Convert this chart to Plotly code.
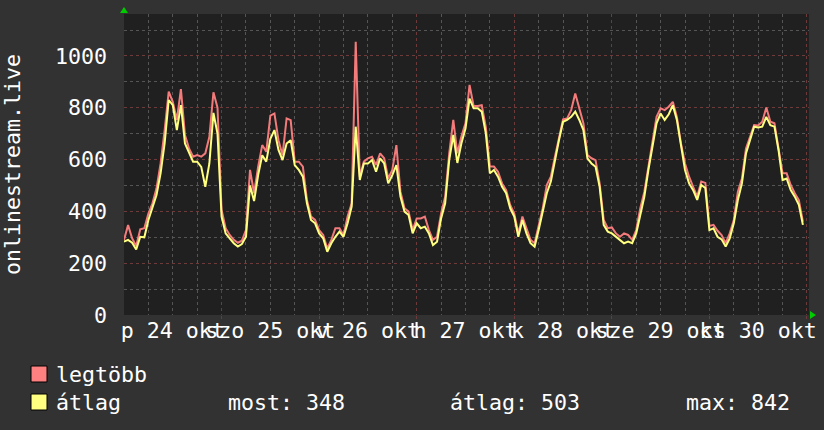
import pandas as pd
import plotly.graph_objects as go

# ---------------- data ----------------
start = "2025-10-24 00:00"
n_hours = 168

avg_values = [
    283, 290, 279, 253, 302, 300, 367, 412, 463, 547, 663, 830, 810, 714, 810, 662,
    630, 592, 592, 572, 495, 585, 780, 700, 380, 315, 296, 277, 264, 274, 302, 500,
    440, 540, 617, 592, 680, 714, 637, 598, 662, 675, 579, 560, 534, 431, 367, 354,
    315, 296, 244, 277, 302, 322, 302, 354, 418, 727, 521, 585, 585, 598, 553, 605,
    585, 508, 540, 579, 457, 399, 386, 315, 354, 335, 341, 315, 270, 283, 373, 431,
    598, 695, 587, 663, 720, 835, 798, 798, 785, 701, 547, 560, 534, 495, 470, 412,
    380, 302, 367, 315, 277, 264, 328, 399, 470, 515, 598, 675, 746, 753, 765, 785,
    753, 714, 605, 585, 572, 495, 348, 322, 315, 302, 290, 277, 283, 277, 315, 386,
    457, 560, 650, 740, 778, 753, 775, 810, 753, 650, 560, 508, 482, 444, 502, 490,
    328, 335, 302, 292, 264, 296, 354, 444, 508, 624, 675, 727, 724, 727, 765, 733,
    727, 637, 521, 527, 482, 457, 425, 348,
]

max_values = [
    290, 347, 296, 266, 331, 335, 392, 431, 489, 585, 714, 862, 823, 753, 872, 695,
    643, 611, 617, 611, 624, 688, 860, 800, 405, 335, 309, 290, 279, 287, 328, 560,
    470, 573, 656, 630, 770, 778, 675, 617, 759, 752, 592, 592, 573, 444, 380, 367,
    328, 309, 257, 290, 335, 335, 309, 380, 431, 1055, 534, 592, 605, 611, 579, 624,
    605, 527, 560, 656, 476, 412, 399, 328, 373, 373, 380, 328, 290, 302, 392, 457,
    624, 753, 624, 690, 740, 888, 807, 807, 810, 725, 573, 573, 553, 508, 482, 425,
    392, 315, 380, 335, 290, 277, 344, 412, 502, 534, 611, 688, 755, 759, 791, 855,
    795, 740, 618, 605, 598, 508, 367, 335, 338, 315, 302, 315, 309, 290, 328, 412,
    476, 573, 662, 765, 798, 791, 804, 823, 765, 662, 585, 534, 495, 457, 515, 510,
    344, 348, 325, 309, 277, 315, 367, 476, 527, 643, 688, 733, 732, 746, 801, 746,
    740, 650, 547, 547, 502, 470, 444, 360,
]

day_labels = ["p 24 okt", "szo 25 okt", "v 26 okt", "h 27 okt",
              "k 28 okt", "sze 29 okt", "cs 30 okt"]
day_noons = ["2025-10-24 12:00", "2025-10-25 12:00", "2025-10-26 12:00",
             "2025-10-27 12:00", "2025-10-28 12:00", "2025-10-29 12:00",
             "2025-10-30 12:00"]
midnights = ["2025-10-25", "2025-10-26", "2025-10-27", "2025-10-28",
             "2025-10-29", "2025-10-30", "2025-10-31"]
y_ticks = [0, 200, 400, 600, 800, 1000]

series_names = ["legtöbb", "átlag"]
stat_names = ["most", "átlag", "max"]
stat_values = [348, 503, 842]
y_title = "onlinestream.live"

# ---------------- figure ----------------
times = pd.date_range(start, periods=n_hours, freq="h")
RED = "#ff8080"
YEL = "#ffff80"
FONT = "DejaVu Sans Mono"
FS = 21.6
MINOR = "#555555"
MAJOR = "#6e3a3a"
x_range = ["2025-10-24 00:00", "2025-10-31 00:30"]

fig = go.Figure()
fig.add_trace(go.Scatter(x=times, y=max_values, mode="lines", name=series_names[0],
                         line=dict(color=RED, width=2), opacity=0.95,
                         xaxis="x", yaxis="y"))
fig.add_trace(go.Scatter(x=times, y=avg_values, mode="lines", name=series_names[1],
                         line=dict(color=YEL, width=2), xaxis="x2", yaxis="y"))

fig.update_layout(
    width=824, height=430,
    margin=dict(l=124, r=15, t=14, b=115),
    paper_bgcolor="#323232", plot_bgcolor="#202020",
    font=dict(family=FONT, size=FS, color="#ffffff"),
    showlegend=False,
    xaxis=dict(
        type="date", range=x_range, automargin=False,
        tickmode="array", tickvals=midnights, showticklabels=False,
        showgrid=True, gridcolor=MAJOR, griddash="dot", gridwidth=1,
        ticks="outside", ticklen=3, tickcolor=MAJOR,
        minor=dict(tick0="2025-10-24", dtick=21600000, showgrid=True,
                   gridcolor=MINOR, griddash="dot", gridwidth=1),
        zeroline=False, showline=False,
    ),
    xaxis2=dict(
        type="date", range=x_range, overlaying="x", anchor="y", side="bottom",
        automargin=False,
        tickmode="array", tickvals=day_noons, ticktext=day_labels,
        tickangle=0, showgrid=False, ticks="", zeroline=False,
        tickfont=dict(family=FONT, size=FS, color="#ffffff"),
    ),
    yaxis=dict(
        range=[0, 1162], tickmode="array", tickvals=y_ticks, automargin=False,
        showgrid=True, gridcolor=MAJOR, griddash="dot", gridwidth=1,
        minor=dict(dtick=100, showgrid=True, gridcolor=MINOR, griddash="dot", gridwidth=1),
        zeroline=False, showline=False, ticks="", ticklabelstandoff=16,
        title=dict(text=y_title, standoff=36, font=dict(family=FONT, size=FS)),
    ),
)

# legend rows (swatches + texts)
row_y = [374, 402]
H = 430 - 14 - 115
def py(p):
    return (315 - p) / H
def px(p):
    return (p - 124) / 685

for i, (name, col) in enumerate(zip(series_names, [RED, YEL])):
    fig.add_shape(type="rect", xref="paper", yref="paper",
                  x0=px(31), x1=px(47), y0=py(row_y[i] - 8), y1=py(row_y[i] + 8),
                  fillcolor=col, line=dict(color="#000000", width=1))
    fig.add_annotation(xref="paper", yref="paper", x=px(54), y=py(row_y[i]),
                       xanchor="left", yanchor="middle", text=name, showarrow=False,
                       font=dict(family=FONT, size=FS, color="#ffffff"))

stat_x = [226, 448, 684]
for sx, nm, val in zip(stat_x, stat_names, stat_values):
    fig.add_annotation(xref="paper", yref="paper", x=px(sx), y=py(row_y[1]),
                       xanchor="left", yanchor="middle", text=f"{nm}: {val}",
                       showarrow=False, font=dict(family=FONT, size=FS, color="#ffffff"))

# green arrows
fig.add_shape(type="path", xref="paper", yref="paper", xsizemode="pixel", ysizemode="pixel",
              xanchor=0, yanchor=1, path="M -4 1 L 4 1 L 0 7 Z",
              fillcolor="#00cc00", line=dict(color="#00cc00", width=0))
fig.add_shape(type="path", xref="paper", yref="paper", xsizemode="pixel", ysizemode="pixel",
              xanchor=1, yanchor=0, path="M 1 -4 L 1 4 L 7 0 Z",
              fillcolor="#00cc00", line=dict(color="#00cc00", width=0))

fig.write_html("out.html", post_script="document.body.style.margin='0';",
               config={"displayModeBar": False})
